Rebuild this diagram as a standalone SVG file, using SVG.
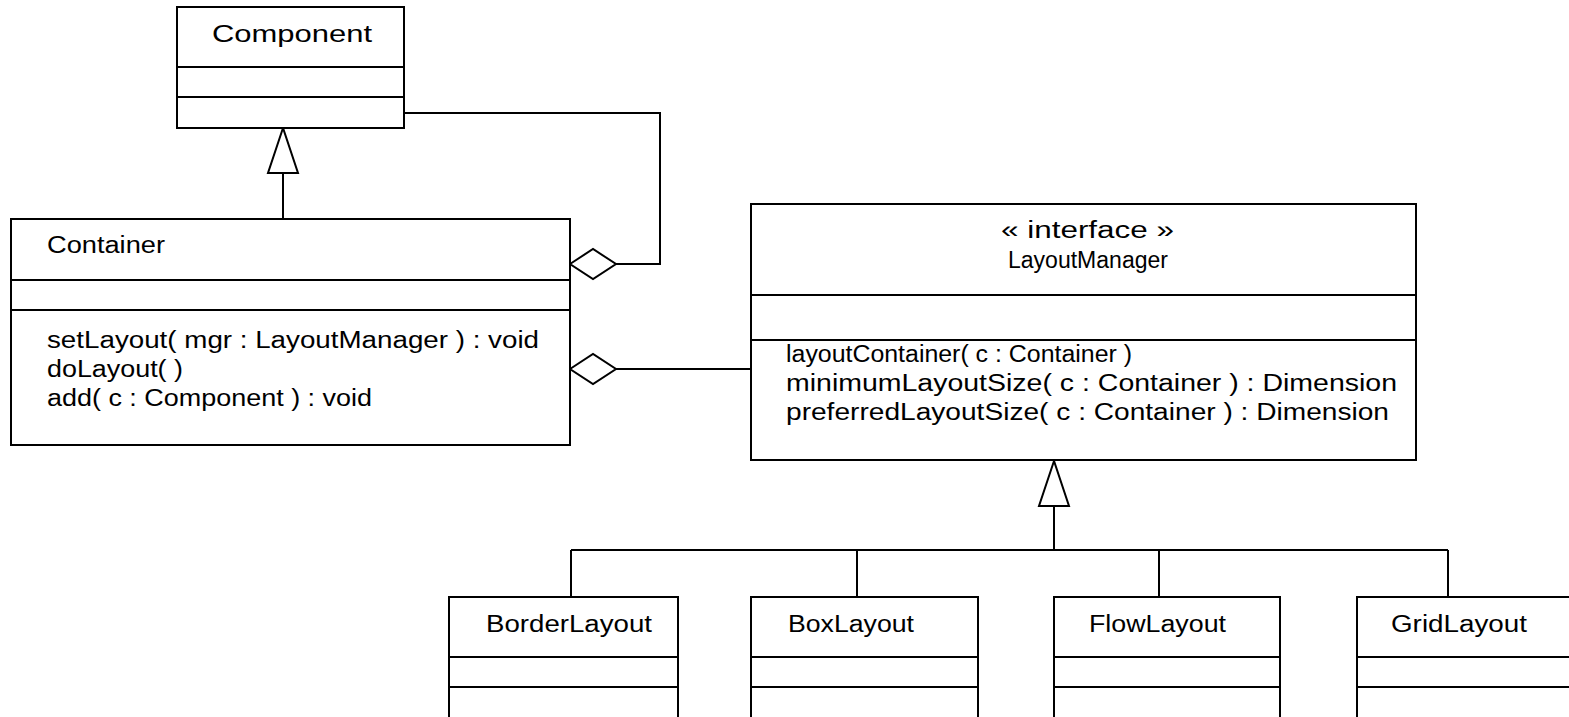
<svg xmlns="http://www.w3.org/2000/svg" width="1569" height="717" viewBox="0 0 1569 717">
<style>
.box{fill:#fff;stroke:#000;stroke-width:2}
.ln{fill:none;stroke:#000;stroke-width:2}
.t{font-family:"Liberation Sans","DejaVu Sans",sans-serif;font-size:23px;fill:#000}
</style>
<rect width="1569" height="717" fill="#fff"/>
<g id="connectors">
<path class="ln" d="M404,113 H660 V264 H616"/>
<polygon class="box" points="570,264 593,249 616,264 593,279"/>
<path class="ln" d="M616,369 H751"/>
<polygon class="box" points="570,369 593,354 616,369 593,384"/>
<path class="ln" d="M283,173 V219"/>
<polygon class="box" points="283,128 268,173 298,173"/>
<path class="ln" d="M1054,506 V550 M571,550 H1448 M571,550 V597 M857,550 V597 M1159,550 V597 M1448,550 V597"/>
<polygon class="box" points="1054,461 1039,506 1069,506"/>
</g>
<g id="component">
<rect class="box" x="177" y="7" width="227" height="121"/>
<path class="ln" d="M177,67 H404 M177,97 H404"/>
<text class="t" x="212" y="42" textLength="160" lengthAdjust="spacingAndGlyphs">Component</text>
</g>
<g id="container">
<rect class="box" x="11" y="219" width="559" height="226"/>
<path class="ln" d="M11,280 H570 M11,310 H570"/>
<text class="t" x="47" y="253" textLength="118" lengthAdjust="spacingAndGlyphs">Container</text>
<text class="t" x="47" y="348" textLength="492" lengthAdjust="spacingAndGlyphs">setLayout( mgr : LayoutManager ) : void</text>
<text class="t" x="47" y="377" textLength="136" lengthAdjust="spacingAndGlyphs">doLayout( )</text>
<text class="t" x="47" y="406" textLength="325" lengthAdjust="spacingAndGlyphs">add( c : Component ) : void</text>
</g>
<g id="layoutmanager">
<rect class="box" x="751" y="204" width="665" height="256"/>
<path class="ln" d="M751,295 H1416 M751,340 H1416"/>
<text class="t" x="1001" y="238" textLength="173" lengthAdjust="spacingAndGlyphs">« interface »</text>
<text class="t" x="1008" y="268" textLength="160" lengthAdjust="spacingAndGlyphs">LayoutManager</text>
<text class="t" x="786" y="362" textLength="346" lengthAdjust="spacingAndGlyphs">layoutContainer( c : Container )</text>
<text class="t" x="786" y="391" textLength="611" lengthAdjust="spacingAndGlyphs">minimumLayoutSize( c : Container ) : Dimension</text>
<text class="t" x="786" y="420" textLength="603" lengthAdjust="spacingAndGlyphs">preferredLayoutSize( c : Container ) : Dimension</text>
</g>
<g id="borderlayout">
<rect class="box" x="449" y="597" width="229" height="130"/>
<path class="ln" d="M449,657 H678 M449,687 H678"/>
<text class="t" x="486" y="632" textLength="166" lengthAdjust="spacingAndGlyphs">BorderLayout</text>
</g>
<g id="boxlayout">
<rect class="box" x="751" y="597" width="227" height="130"/>
<path class="ln" d="M751,657 H978 M751,687 H978"/>
<text class="t" x="788" y="632" textLength="126" lengthAdjust="spacingAndGlyphs">BoxLayout</text>
</g>
<g id="flowlayout">
<rect class="box" x="1054" y="597" width="226" height="130"/>
<path class="ln" d="M1054,657 H1280 M1054,687 H1280"/>
<text class="t" x="1089" y="632" textLength="137" lengthAdjust="spacingAndGlyphs">FlowLayout</text>
</g>
<g id="gridlayout">
<rect class="box" x="1357" y="597" width="230" height="130"/>
<path class="ln" d="M1357,657 H1587 M1357,687 H1587"/>
<text class="t" x="1391" y="632" textLength="136" lengthAdjust="spacingAndGlyphs">GridLayout</text>
</g>
</svg>
